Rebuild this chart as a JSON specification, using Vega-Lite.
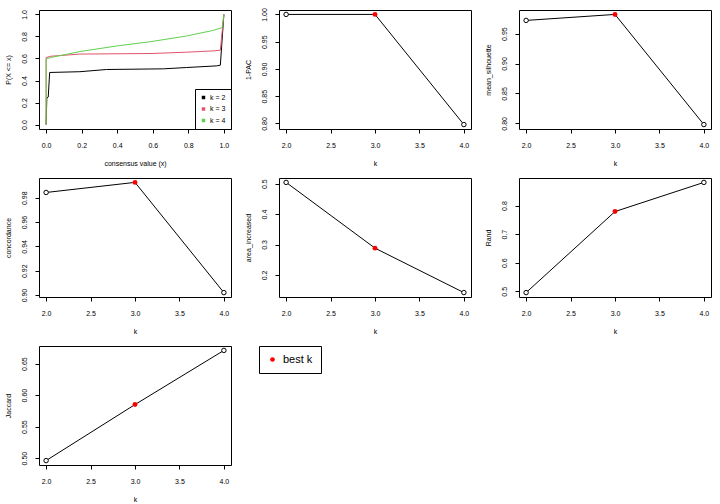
{
  "$schema": "https://vega.github.io/schema/vega-lite/v6.json",
  "padding": {"left": 4, "top": 7, "right": 5, "bottom": 5},
  "autosize": {"type": "pad"},
  "background": "white",
  "datasets": {
    "ecdf": [
      {"k": "k = 2", "x": 0, "y": 0},
      {"k": "k = 2", "x": 0.004, "y": 0.24},
      {"k": "k = 2", "x": 0.012, "y": 0.25},
      {"k": "k = 2", "x": 0.02, "y": 0.473},
      {"k": "k = 2", "x": 0.19, "y": 0.48},
      {"k": "k = 2", "x": 0.34, "y": 0.5},
      {"k": "k = 2", "x": 0.66, "y": 0.506},
      {"k": "k = 2", "x": 0.79, "y": 0.518},
      {"k": "k = 2", "x": 0.96, "y": 0.533},
      {"k": "k = 2", "x": 0.98, "y": 0.539},
      {"k": "k = 2", "x": 1.0, "y": 1.0},
      {"k": "k = 3", "x": 0, "y": 0},
      {"k": "k = 3", "x": 0, "y": 0.608},
      {"k": "k = 3", "x": 0.024, "y": 0.62},
      {"k": "k = 3", "x": 0.19, "y": 0.64},
      {"k": "k = 3", "x": 0.59, "y": 0.645},
      {"k": "k = 3", "x": 0.79, "y": 0.657},
      {"k": "k = 3", "x": 0.94, "y": 0.669},
      {"k": "k = 3", "x": 0.98, "y": 0.675},
      {"k": "k = 3", "x": 1.0, "y": 1.0},
      {"k": "k = 4", "x": 0, "y": 0},
      {"k": "k = 4", "x": 0, "y": 0.593},
      {"k": "k = 4", "x": 0.024, "y": 0.608},
      {"k": "k = 4", "x": 0.19, "y": 0.663},
      {"k": "k = 4", "x": 0.4, "y": 0.714},
      {"k": "k = 4", "x": 0.59, "y": 0.753},
      {"k": "k = 4", "x": 0.79, "y": 0.804},
      {"k": "k = 4", "x": 0.94, "y": 0.855},
      {"k": "k = 4", "x": 0.99, "y": 0.88},
      {"k": "k = 4", "x": 1.0, "y": 1.0}
    ],
    "metrics": [
      {"metric": "1-PAC", "k": 2, "value": 1.0},
      {"metric": "1-PAC", "k": 3, "value": 1.0},
      {"metric": "1-PAC", "k": 4, "value": 0.798},
      {"metric": "mean_silhouette", "k": 2, "value": 0.972},
      {"metric": "mean_silhouette", "k": 3, "value": 0.982},
      {"metric": "mean_silhouette", "k": 4, "value": 0.798},
      {"metric": "concordance", "k": 2, "value": 0.9843},
      {"metric": "concordance", "k": 3, "value": 0.9926},
      {"metric": "concordance", "k": 4, "value": 0.902},
      {"metric": "area_increased", "k": 2, "value": 0.504},
      {"metric": "area_increased", "k": 3, "value": 0.288},
      {"metric": "area_increased", "k": 4, "value": 0.142},
      {"metric": "Rand", "k": 2, "value": 0.4955},
      {"metric": "Rand", "k": 3, "value": 0.779},
      {"metric": "Rand", "k": 4, "value": 0.881},
      {"metric": "Jaccard", "k": 2, "value": 0.496},
      {"metric": "Jaccard", "k": 3, "value": 0.585},
      {"metric": "Jaccard", "k": 4, "value": 0.671}
    ]
  },
  "columns": 3,
  "bounds": "flush",
  "spacing": {"row": 49, "column": 48},
  "resolve": {"legend": {"color": "independent", "fill": "independent"}},
  "concat": [
    {
      "width": 192, "height": 119,
      "data": {"name": "ecdf"},
      "mark": {"type": "line", "strokeWidth": 1},
      "encoding": {
        "x": {"field": "x", "type": "quantitative", "scale": {"domain": [-0.04, 1.04], "nice": false, "zero": false}, "axis": {"values": [0, 0.2, 0.4, 0.6, 0.8, 1.0], "format": ".1f", "title": "consensus value (x)"}},
        "y": {"field": "y", "type": "quantitative", "scale": {"domain": [-0.04, 1.04], "nice": false, "zero": false}, "axis": {"values": [0, 0.2, 0.4, 0.6, 0.8, 1.0], "format": ".1f", "title": "P(X <= x)"}},
        "color": {"field": "k", "type": "nominal", "scale": {"domain": ["k = 2", "k = 3", "k = 4"], "range": ["black", "#DF536B", "#61D04F"]},
          "legend": {"title": null, "orient": "bottom-right", "offset": 0, "symbolType": "square", "symbolSize": 12, "symbolStrokeWidth": 0, "labelFontSize": 7, "padding": 5, "rowPadding": 3.5, "labelOffset": 3, "strokeColor": "black", "fillColor": "white",
            "encode": {"symbols": {"update": {"fill": {"signal": "scale('color', datum.value)"}, "opacity": {"value": 1}}}}}},
        "order": {"field": "y", "type": "quantitative"}
      }
    },
    {
      "width": 192, "height": 119,
      "data": {"name": "metrics"},
      "transform": [{"filter": "datum.metric == '1-PAC'"}],
      "encoding": {
        "x": {"field": "k", "type": "quantitative", "scale": {"domain": [1.92, 4.08], "nice": false, "zero": false}, "axis": {"values": [2, 2.5, 3, 3.5, 4], "format": ".1f", "title": "k"}},
        "y": {"field": "value", "type": "quantitative", "scale": {"domain": [0.7899, 1.0081], "nice": false, "zero": false}, "axis": {"values": [0.8, 0.85, 0.9, 0.95, 1.0], "format": ".2f", "title": "1-PAC"}}
      },
      "layer": [
        {"mark": {"type": "line", "color": "black", "strokeWidth": 1}},
        {"transform": [{"filter": "datum.k != 3"}], "mark": {"type": "point", "shape": "circle", "filled": true, "fill": "white", "stroke": "black", "strokeWidth": 1, "size": 20, "opacity": 1}},
        {"transform": [{"filter": "datum.k == 3"}], "mark": {"type": "point", "shape": "circle", "filled": true, "color": "red", "size": 24, "opacity": 1}}
      ]
    },
    {
      "width": 192, "height": 119,
      "data": {"name": "metrics"},
      "transform": [{"filter": "datum.metric == 'mean_silhouette'"}],
      "encoding": {
        "x": {"field": "k", "type": "quantitative", "scale": {"domain": [1.92, 4.08], "nice": false, "zero": false}, "axis": {"values": [2, 2.5, 3, 3.5, 4], "format": ".1f", "title": "k"}},
        "y": {"field": "value", "type": "quantitative", "scale": {"domain": [0.7906, 0.9894], "nice": false, "zero": false}, "axis": {"values": [0.8, 0.85, 0.9, 0.95], "format": ".2f", "title": "mean_silhouette"}}
      },
      "layer": [
        {"mark": {"type": "line", "color": "black", "strokeWidth": 1}},
        {"transform": [{"filter": "datum.k != 3"}], "mark": {"type": "point", "shape": "circle", "filled": true, "fill": "white", "stroke": "black", "strokeWidth": 1, "size": 20, "opacity": 1}},
        {"transform": [{"filter": "datum.k == 3"}], "mark": {"type": "point", "shape": "circle", "filled": true, "color": "red", "size": 24, "opacity": 1}}
      ]
    },
    {
      "width": 192, "height": 119,
      "data": {"name": "metrics"},
      "transform": [{"filter": "datum.metric == 'concordance'"}],
      "encoding": {
        "x": {"field": "k", "type": "quantitative", "scale": {"domain": [1.92, 4.08], "nice": false, "zero": false}, "axis": {"values": [2, 2.5, 3, 3.5, 4], "format": ".1f", "title": "k"}},
        "y": {"field": "value", "type": "quantitative", "scale": {"domain": [0.8984, 0.9962], "nice": false, "zero": false}, "axis": {"values": [0.9, 0.92, 0.94, 0.96, 0.98], "format": ".2f", "title": "concordance"}}
      },
      "layer": [
        {"mark": {"type": "line", "color": "black", "strokeWidth": 1}},
        {"transform": [{"filter": "datum.k != 3"}], "mark": {"type": "point", "shape": "circle", "filled": true, "fill": "white", "stroke": "black", "strokeWidth": 1, "size": 20, "opacity": 1}},
        {"transform": [{"filter": "datum.k == 3"}], "mark": {"type": "point", "shape": "circle", "filled": true, "color": "red", "size": 24, "opacity": 1}}
      ]
    },
    {
      "width": 192, "height": 119,
      "data": {"name": "metrics"},
      "transform": [{"filter": "datum.metric == 'area_increased'"}],
      "encoding": {
        "x": {"field": "k", "type": "quantitative", "scale": {"domain": [1.92, 4.08], "nice": false, "zero": false}, "axis": {"values": [2, 2.5, 3, 3.5, 4], "format": ".1f", "title": "k"}},
        "y": {"field": "value", "type": "quantitative", "scale": {"domain": [0.1275, 0.5185], "nice": false, "zero": false}, "axis": {"values": [0.2, 0.3, 0.4, 0.5], "format": ".1f", "title": "area_increased"}}
      },
      "layer": [
        {"mark": {"type": "line", "color": "black", "strokeWidth": 1}},
        {"transform": [{"filter": "datum.k != 3"}], "mark": {"type": "point", "shape": "circle", "filled": true, "fill": "white", "stroke": "black", "strokeWidth": 1, "size": 20, "opacity": 1}},
        {"transform": [{"filter": "datum.k == 3"}], "mark": {"type": "point", "shape": "circle", "filled": true, "color": "red", "size": 24, "opacity": 1}}
      ]
    },
    {
      "width": 192, "height": 119,
      "data": {"name": "metrics"},
      "transform": [{"filter": "datum.metric == 'Rand'"}],
      "encoding": {
        "x": {"field": "k", "type": "quantitative", "scale": {"domain": [1.92, 4.08], "nice": false, "zero": false}, "axis": {"values": [2, 2.5, 3, 3.5, 4], "format": ".1f", "title": "k"}},
        "y": {"field": "value", "type": "quantitative", "scale": {"domain": [0.4801, 0.8964], "nice": false, "zero": false}, "axis": {"values": [0.5, 0.6, 0.7, 0.8], "format": ".1f", "title": "Rand"}}
      },
      "layer": [
        {"mark": {"type": "line", "color": "black", "strokeWidth": 1}},
        {"transform": [{"filter": "datum.k != 3"}], "mark": {"type": "point", "shape": "circle", "filled": true, "fill": "white", "stroke": "black", "strokeWidth": 1, "size": 20, "opacity": 1}},
        {"transform": [{"filter": "datum.k == 3"}], "mark": {"type": "point", "shape": "circle", "filled": true, "color": "red", "size": 24, "opacity": 1}}
      ]
    },
    {
      "width": 192, "height": 119,
      "data": {"name": "metrics"},
      "transform": [{"filter": "datum.metric == 'Jaccard'"}],
      "encoding": {
        "x": {"field": "k", "type": "quantitative", "scale": {"domain": [1.92, 4.08], "nice": false, "zero": false}, "axis": {"values": [2, 2.5, 3, 3.5, 4], "format": ".1f", "title": "k"}},
        "y": {"field": "value", "type": "quantitative", "scale": {"domain": [0.489, 0.678], "nice": false, "zero": false}, "axis": {"values": [0.5, 0.55, 0.6, 0.65], "format": ".2f", "title": "Jaccard"}}
      },
      "layer": [
        {"mark": {"type": "line", "color": "black", "strokeWidth": 1}},
        {"transform": [{"filter": "datum.k != 3"}], "mark": {"type": "point", "shape": "circle", "filled": true, "fill": "white", "stroke": "black", "strokeWidth": 1, "size": 20, "opacity": 1}},
        {"transform": [{"filter": "datum.k == 3"}], "mark": {"type": "point", "shape": "circle", "filled": true, "color": "red", "size": 24, "opacity": 1}}
      ]
    },
    {
      "width": 192, "height": 119,
      "view": {"stroke": null},
      "data": {"values": [{"label": "best k"}]},
      "mark": {"type": "point", "shape": "circle", "filled": true},
      "encoding": {
        "fill": {"field": "label", "type": "nominal", "scale": {"domain": ["best k"], "range": ["red"]},
          "legend": {"title": null, "orient": "none", "legendX": -20, "legendY": 0, "symbolType": "circle", "symbolSize": 22, "symbolStrokeWidth": 0, "labelFontSize": 11, "padding": 8, "labelOffset": 5, "strokeColor": "black", "fillColor": "white",
            "encode": {"symbols": {"update": {"opacity": {"value": 1}}}}}},
        "opacity": {"value": 0}
      }
    }
  ],
  "config": {
    "font": "Liberation Sans",
    "view": {"stroke": "black", "strokeWidth": 1},
    "axis": {"domain": false, "grid": false, "ticks": true, "tickColor": "black", "tickSize": 4, "labelFontSize": 7, "labelColor": "black", "titleFontSize": 7, "titleFontWeight": "normal", "titleColor": "black", "labelFlush": false, "labelOverlap": false},
    "axisX": {"labelPadding": 8.5, "titlePadding": 11},
    "axisY": {"labelAngle": -90, "labelAlign": "center", "labelBaseline": "bottom", "labelPadding": 8, "titlePadding": 8.5},
    "legend": {"labelColor": "black", "labelFont": "Liberation Sans"}
  }
}
